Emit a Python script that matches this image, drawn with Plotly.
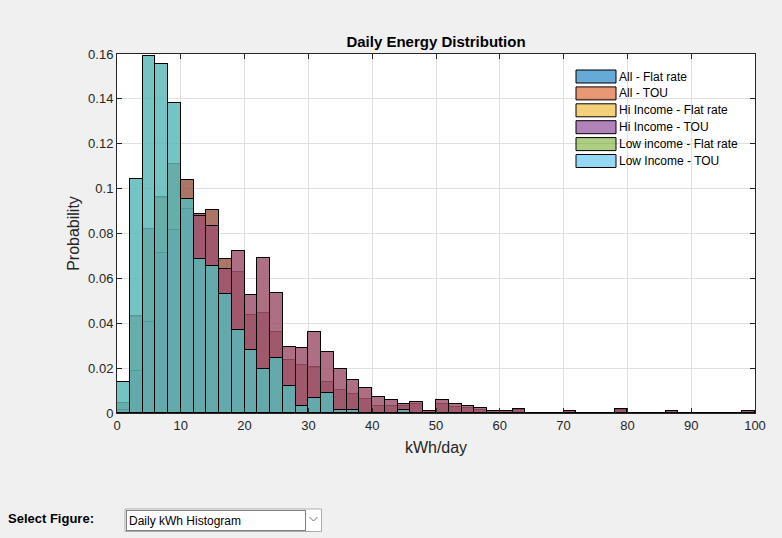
import plotly.graph_objects as go

# ---------------- data ----------------
bin_edges_left = list(range(0, 100, 2))          # 0,2,...,98  (bin width 2 kWh/day)
bin_width = 2

series_names = ["All - Flat rate", "All - TOU", "Hi Income - Flat rate",
                "Hi Income - TOU", "Low income - Flat rate", "Low Income - TOU"]

all_flat = [0.0046, 0.0430, 0.0820, 0.0960, 0.1110, 0.1037, 0.0886, 0.0904, 0.0685, 0.0627,
            0.0435, 0.0444, 0.0363, 0.0238, 0.0212, 0.0201, 0.0140, 0.0101, 0.0083, 0.0064,
            0.0033, 0.0030, 0.0030, 0.0039, 0.0008, 0.0039, 0.0027, 0.0021, 0.0012, 0.0008,
            0.0008, 0.0015, 0.0, 0.0, 0.0, 0.0008, 0.0, 0.0, 0.0, 0.0015,
            0.0, 0.0, 0.0, 0.0008, 0.0, 0.0, 0.0, 0.0, 0.0, 0.0008]
all_tou = [0.0046, 0.0432, 0.0819, 0.0962, 0.1109, 0.1037, 0.0886, 0.0904, 0.0685, 0.0627,
           0.0435, 0.0444, 0.0363, 0.0238, 0.0212, 0.0203, 0.0140, 0.0101, 0.0083, 0.0064,
           0.0033, 0.0030, 0.0030, 0.0039, 0.0008, 0.0039, 0.0027, 0.0021, 0.0012, 0.0008,
           0.0008, 0.0015, 0.0, 0.0, 0.0, 0.0008, 0.0, 0.0, 0.0, 0.0015,
           0.0, 0.0, 0.0, 0.0008, 0.0, 0.0, 0.0, 0.0, 0.0, 0.0008]
hi_flat = [0.0012, 0.0186, 0.0404, 0.0712, 0.0814, 0.0908, 0.0877, 0.0832, 0.0640, 0.0720,
           0.0524, 0.0689, 0.0537, 0.0296, 0.0288, 0.0359, 0.0270, 0.0194, 0.0145, 0.0112,
           0.0073, 0.0060, 0.0042, 0.0051, 0.0011, 0.0060, 0.0042, 0.0030, 0.0021, 0.0011,
           0.0011, 0.0020, 0.0, 0.0, 0.0, 0.0011, 0.0, 0.0, 0.0, 0.0020,
           0.0, 0.0, 0.0, 0.0011, 0.0, 0.0, 0.0, 0.0, 0.0, 0.0011]
hi_tou = [0.0012, 0.0186, 0.0404, 0.0712, 0.0814, 0.0908, 0.0877, 0.0832, 0.0640, 0.0720,
          0.0524, 0.0689, 0.0537, 0.0296, 0.0288, 0.0359, 0.0270, 0.0194, 0.0145, 0.0112,
          0.0073, 0.0060, 0.0042, 0.0051, 0.0011, 0.0060, 0.0042, 0.0030, 0.0021, 0.0011,
          0.0011, 0.0020, 0.0, 0.0, 0.0, 0.0011, 0.0, 0.0, 0.0, 0.0020,
          0.0, 0.0, 0.0, 0.0011, 0.0, 0.0, 0.0, 0.0, 0.0, 0.0011]
low_flat = [0.0138, 0.1042, 0.1591, 0.1555, 0.1381, 0.0955, 0.0688, 0.0654, 0.0529, 0.0372,
            0.0283, 0.0194, 0.0247, 0.0122, 0.0033, 0.0069, 0.0087, 0.0015, 0.0015, 0.0,
            0.0, 0.0, 0.0012, 0.0, 0.0, 0.0, 0.0, 0.0, 0.0, 0.0,
            0.0, 0.0, 0.0, 0.0, 0.0, 0.0, 0.0, 0.0, 0.0, 0.0,
            0.0, 0.0, 0.0, 0.0, 0.0, 0.0, 0.0, 0.0, 0.0, 0.0]
low_tou = [0.0138, 0.1042, 0.1591, 0.1555, 0.1381, 0.0955, 0.0688, 0.0654, 0.0529, 0.0372,
           0.0283, 0.0194, 0.0247, 0.0122, 0.0033, 0.0069, 0.0087, 0.0015, 0.0015, 0.0,
           0.0, 0.0, 0.0012, 0.0, 0.0, 0.0, 0.0, 0.0, 0.0, 0.0,
           0.0, 0.0, 0.0, 0.0, 0.0, 0.0, 0.0, 0.0, 0.0, 0.0,
           0.0, 0.0, 0.0, 0.0, 0.0, 0.0, 0.0, 0.0, 0.0, 0.0]

series_values = [all_flat, all_tou, hi_flat, hi_tou, low_flat, low_tou]
series_colors = ["rgba(0,114,189,0.6)", "rgba(217,83,25,0.6)", "rgba(237,177,32,0.6)",
                 "rgba(126,47,142,0.6)", "rgba(119,172,48,0.6)", "rgba(77,190,238,0.6)"]

x_ticks = list(range(0, 101, 10))
y_ticks = [0, 0.02, 0.04, 0.06, 0.08, 0.1, 0.12, 0.14, 0.16]

# ---------------- figure ----------------
W, H = 782, 538
ML, MR, MT, MB = 117, 27, 54, 125
PW, PH = W - ML - MR, H - MT - MB

def px(x):
    return (x - ML) / PW

def py(y):
    return (H - MB - y) / PH

FONT = "Liberation Sans, Arial, Helvetica, sans-serif"
centers = [e + bin_width / 2 for e in bin_edges_left]

fig = go.Figure()
for name, vals, col in zip(series_names, series_values, series_colors):
    fig.add_trace(go.Bar(
        x=centers, y=vals, width=bin_width, name=name,
        marker=dict(color=col, line=dict(color="black", width=1)),
        showlegend=False, hoverinfo="x+y+name",
    ))

shapes = []
annotations = []

# manual legend (MATLAB-style wide swatches, no box)
leg_y0 = 76.5
leg_dy = 16.9
for i, (name, col) in enumerate(zip(series_names, series_colors)):
    yc = leg_y0 + i * leg_dy
    shapes.append(dict(type="rect", xref="paper", yref="paper",
                       x0=px(576), x1=px(616), y0=py(yc - 6.5), y1=py(yc + 6.5),
                       fillcolor=col, line=dict(color="black", width=1), layer="above"))
    annotations.append(dict(text=name, xref="paper", yref="paper", x=px(617), y=py(yc),
                            xanchor="left", yanchor="middle", showarrow=False,
                            font=dict(family=FONT, size=12, color="black")))

# bottom UI: "Select Figure:" label and dropdown box
annotations.append(dict(text="<b>Select Figure:</b>", xref="paper", yref="paper",
                        x=px(6), y=py(518), xanchor="left", yanchor="middle",
                        showarrow=False, font=dict(family=FONT, size=13, color="black")))
shapes.append(dict(type="rect", xref="paper", yref="paper",
                   x0=px(125), x1=px(321.5), y0=py(509), y1=py(531.5),
                   fillcolor="white", line=dict(color="#adadad", width=1), layer="above"))
shapes.append(dict(type="rect", xref="paper", yref="paper",
                   x0=px(126.5), x1=px(305.5), y0=py(510.5), y1=py(530.5),
                   fillcolor="rgba(0,0,0,0)", line=dict(color="black", width=1, dash="1px,1px"),
                   layer="above"))
shapes.append(dict(type="path", xref="paper", yref="paper",
                   path=f"M {px(309.5)},{py(517)} L {px(313.5)},{py(521)} L {px(317.5)},{py(517)}",
                   line=dict(color="#6e6e6e", width=1), layer="above"))
annotations.append(dict(text="Daily kWh Histogram", xref="paper", yref="paper",
                        x=px(127), y=py(520.5), xanchor="left", yanchor="middle",
                        showarrow=False, font=dict(family=FONT, size=12, color="black")))

axis_common = dict(
    showgrid=True, gridcolor="#dfdfdf", gridwidth=1,
    showline=True, linecolor="#262626", linewidth=1, mirror="allticks",
    ticks="inside", ticklen=5, tickcolor="#262626", tickwidth=1,
    tickfont=dict(family=FONT, size=13, color="#262626"),
    zeroline=False,
)

fig.update_layout(
    width=W, height=H,
    margin=dict(l=ML, r=MR, t=MT, b=MB, pad=0),
    paper_bgcolor="#f0f0f0", plot_bgcolor="white",
    barmode="overlay", bargap=0,
    title=dict(text="<b>Daily Energy Distribution</b>", x=0.5, xref="paper",
               y=1, yref="paper", yanchor="bottom", pad=dict(b=7),
               font=dict(family=FONT, size=15, color="black")),
    xaxis=dict(range=[0, 100], tickvals=x_ticks,
               title=dict(text="kWh/day", font=dict(family=FONT, size=16, color="#262626"),
                          standoff=10),
               **axis_common),
    yaxis=dict(range=[0, 0.16], tickvals=y_ticks,
               title=dict(text="Probability", font=dict(family=FONT, size=16, color="#262626"),
                          standoff=4),
               **axis_common),
    shapes=shapes, annotations=annotations,
    showlegend=False,
)

fig.write_html("out.html")
